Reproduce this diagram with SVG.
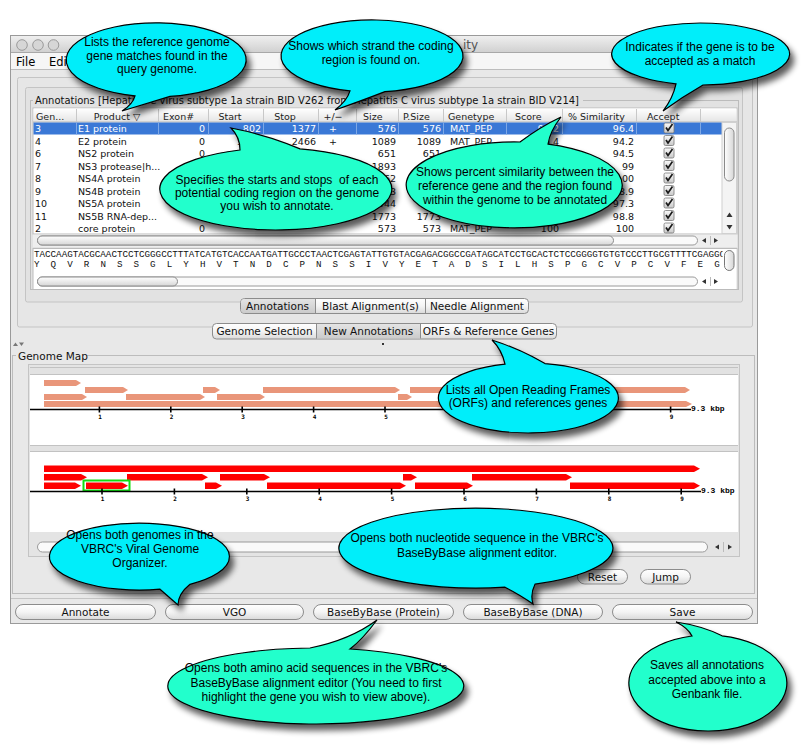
<svg xmlns="http://www.w3.org/2000/svg" width="810" height="750" viewBox="0 0 810 750">
<defs>
<style>
.ui{font-family:"DejaVu Sans","Liberation Sans",sans-serif;font-size:9.5px;fill:#111}
.w{fill:#fff}
.r{text-anchor:end}
.m{text-anchor:middle}
.hd{font-family:"DejaVu Sans","Liberation Sans",sans-serif;font-size:9.5px;fill:#222}
.btx{font-family:"DejaVu Sans","Liberation Sans",sans-serif;font-size:10.5px;fill:#111;text-anchor:middle}
.seq{font-family:"Liberation Mono","DejaVu Sans Mono",monospace;font-size:9.2px;fill:#111}
.co{font-family:"Liberation Sans",Arial,sans-serif;font-size:12px;fill:#000;text-anchor:middle}
.cy{fill:#00eefa;stroke:#000;stroke-width:1.2}
.mi{fill:#22ffcc;stroke:#000;stroke-width:1.2}
.orf{fill:#e9967a}
.ref{fill:#ff0000}
.btn{fill:url(#gb);stroke:#8c8c8c;stroke-width:1}
.ax{stroke:#000;stroke-width:1.3}
.tkm{stroke:#000;stroke-width:1.6}
.tk{font-family:"DejaVu Sans Mono",monospace;font-size:6px;font-weight:bold;fill:#000;text-anchor:middle}
.kb{font-family:"Liberation Mono","DejaVu Sans Mono",monospace;font-size:8px;font-weight:bold;fill:#000}
.ln{stroke:#c2c2c2;stroke-width:1;fill:none}
.col{stroke:#c8c8c8;stroke-width:1}
.arr{fill:#333}
</style>
<linearGradient id="tb" x1="0" y1="0" x2="0" y2="1"><stop offset="0" stop-color="#efefef"/><stop offset="1" stop-color="#d0d0d0"/></linearGradient>
<linearGradient id="gb" x1="0" y1="0" x2="0" y2="1"><stop offset="0" stop-color="#ffffff"/><stop offset="0.5" stop-color="#f4f4f4"/><stop offset="1" stop-color="#dadada"/></linearGradient>
<linearGradient id="gs" x1="0" y1="0" x2="0" y2="1"><stop offset="0" stop-color="#e4e4e4"/><stop offset="1" stop-color="#cbcbcb"/></linearGradient>
<linearGradient id="ghd" x1="0" y1="0" x2="0" y2="1"><stop offset="0" stop-color="#ffffff"/><stop offset="1" stop-color="#e4e4e4"/></linearGradient>
<linearGradient id="gth" x1="0" y1="0" x2="0" y2="1"><stop offset="0" stop-color="#ffffff"/><stop offset="1" stop-color="#d6d6d6"/></linearGradient>
<linearGradient id="gtv" x1="0" y1="0" x2="1" y2="0"><stop offset="0" stop-color="#ffffff"/><stop offset="1" stop-color="#d6d6d6"/></linearGradient>
<linearGradient id="gcb" x1="0" y1="0" x2="0" y2="1"><stop offset="0" stop-color="#fafafa"/><stop offset="1" stop-color="#c8c8c8"/></linearGradient>
<filter id="sh" x="-20%" y="-30%" width="150%" height="170%">
<feGaussianBlur in="SourceAlpha" stdDeviation="3"/>
<feOffset dx="4" dy="6" result="o"/>
<feComponentTransfer><feFuncA type="linear" slope="0.65"/></feComponentTransfer>
<feMerge><feMergeNode/><feMergeNode in="SourceGraphic"/></feMerge>
</filter>
<g id="cb"><rect x="-5" y="-5" width="10" height="10" rx="1.5" fill="url(#gcb)" stroke="#777" stroke-width="0.8"/><path d="M-3,-0.5 L-1,2.5 L3.5,-4" fill="none" stroke="#1a1a1a" stroke-width="1.7"/></g>
</defs>

<rect x="0" y="0" width="810" height="750" fill="#fff"/>

<g id="window">
<rect x="10.5" y="35.5" width="747" height="588" fill="#e8e8e8" stroke="#9a9a9a"/>
<rect x="11" y="36" width="746" height="16.5" fill="url(#tb)"/>
<line x1="11" y1="52.5" x2="757" y2="52.5" stroke="#a8a8a8"/>
<circle cx="22" cy="45" r="5.3" fill="#d6d6d6" stroke="#9a9a9a"/>
<circle cx="38" cy="45" r="5.3" fill="#d6d6d6" stroke="#9a9a9a"/>
<circle cx="53.5" cy="45" r="5.3" fill="#d6d6d6" stroke="#9a9a9a"/>
<text x="463" y="49" font-family="DejaVu Sans, sans-serif" font-size="12" fill="#555">ity</text>
<rect x="11" y="53" width="746" height="16" fill="#f6f6f6"/>
<line x1="11" y1="69.5" x2="757" y2="69.5" stroke="#bdbdbd"/>
<text x="16" y="66" font-family="DejaVu Sans, sans-serif" font-size="11.5" fill="#000">File</text>
<text x="49" y="66" font-family="DejaVu Sans, sans-serif" font-size="11.5" fill="#000">Edit</text>
<rect x="17.5" y="77.5" width="735" height="249.5" rx="2" fill="#e6e6e6" stroke="#c4c4c4"/>
<rect x="25.5" y="87.5" width="717" height="214.5" rx="2" fill="#e2e2e2" stroke="#c4c4c4"/>
<rect x="30.5" y="100.5" width="708" height="189" fill="none" stroke="#bcbcbc"/>
<rect x="33" y="94" width="550" height="11" fill="#e2e2e2"/>
<text x="35" y="104" font-family="DejaVu Sans, sans-serif" font-size="10" fill="#111" textLength="544" lengthAdjust="spacingAndGlyphs">Annotations [Hepatitis C virus subtype 1a strain BID V262 from Hepatitis C virus subtype 1a strain BID V214]</text>
</g>

<g id="table">
<rect x="33" y="108" width="704" height="126" fill="#fff" stroke="#bbb"/>
<rect x="33.5" y="108.5" width="703" height="13.5" fill="url(#ghd)"/>
<line x1="33" y1="122" x2="737" y2="122" stroke="#b8b8b8"/>
<g class="col">
<line x1="76.5" y1="109" x2="76.5" y2="122"/><line x1="158.5" y1="109" x2="158.5" y2="122"/><line x1="208.5" y1="109" x2="208.5" y2="122"/><line x1="263.5" y1="109" x2="263.5" y2="122"/><line x1="318.5" y1="109" x2="318.5" y2="122"/><line x1="356.5" y1="109" x2="356.5" y2="122"/><line x1="398.5" y1="109" x2="398.5" y2="122"/><line x1="443.5" y1="109" x2="443.5" y2="122"/><line x1="506.5" y1="109" x2="506.5" y2="122"/><line x1="562.5" y1="109" x2="562.5" y2="122"/><line x1="636.5" y1="109" x2="636.5" y2="122"/><line x1="700.5" y1="109" x2="700.5" y2="122"/>
</g>
<g class="hd">
<text x="36" y="119.5">Gen...</text>
<text x="117" y="119.5" class="m">Product ▽</text>
<text x="163" y="119.5">Exon#</text>
<text x="230" y="119.5" class="m">Start</text>
<text x="285" y="119.5" class="m">Stop</text>
<text x="333" y="119.5" class="m">+/−</text>
<text x="363" y="119.5">Size</text>
<text x="403" y="119.5">P.Size</text>
<text x="448" y="119.5">Genetype</text>
<text x="515" y="119.5">Score</text>
<text x="568" y="119.5">% Similarity</text>
<text x="647" y="119.5">Accept</text>
</g>
<rect x="33.5" y="122.5" width="688.5" height="12" fill="#3a78d6"/>
<g stroke="#7ea8e6" stroke-width="1">
<line x1="76.5" y1="122.5" x2="76.5" y2="134.5"/><line x1="158.5" y1="122.5" x2="158.5" y2="134.5"/><line x1="208.5" y1="122.5" x2="208.5" y2="134.5"/><line x1="263.5" y1="122.5" x2="263.5" y2="134.5"/><line x1="318.5" y1="122.5" x2="318.5" y2="134.5"/><line x1="356.5" y1="122.5" x2="356.5" y2="134.5"/><line x1="398.5" y1="122.5" x2="398.5" y2="134.5"/><line x1="443.5" y1="122.5" x2="443.5" y2="134.5"/><line x1="506.5" y1="122.5" x2="506.5" y2="134.5"/><line x1="562.5" y1="122.5" x2="562.5" y2="134.5"/><line x1="636.5" y1="122.5" x2="636.5" y2="134.5"/><line x1="700.5" y1="122.5" x2="700.5" y2="134.5"/>
</g>
<g class="ui w">
<text x="35" y="132">3</text><text x="78" y="132">E1 protein</text><text x="205" y="132" class="r">0</text><text x="261" y="132" class="r">802</text><text x="316" y="132" class="r">1377</text><text x="333" y="132" class="m">+</text><text x="396" y="132" class="r">576</text><text x="441" y="132" class="r">576</text><text x="450" y="132">MAT_PEP</text><text x="559" y="132" class="r">97.2</text><text x="634" y="132" class="r">96.4</text>
</g>
<g class="ui">
<text x="35" y="144.5">4</text><text x="78" y="144.5">E2 protein</text><text x="205" y="144.5" class="r">0</text><text x="261" y="144.5" class="r">1378</text><text x="316" y="144.5" class="r">2466</text><text x="333" y="144.5" class="m">+</text><text x="396" y="144.5" class="r">1089</text><text x="441" y="144.5" class="r">1089</text><text x="450" y="144.5">MAT_PEP</text><text x="559" y="144.5" class="r">96.4</text><text x="634" y="144.5" class="r">94.2</text>
<text x="35" y="157">6</text><text x="78" y="157">NS2 protein</text><text x="205" y="157" class="r">0</text><text x="396" y="157" class="r">651</text><text x="441" y="157" class="r">651</text><text x="634" y="157" class="r">94.5</text>
<text x="35" y="169.5">7</text><text x="78" y="169.5">NS3 protease|h...</text><text x="396" y="169.5" class="r">1893</text><text x="634" y="169.5" class="r">99</text>
<text x="35" y="182">8</text><text x="78" y="182">NS4A protein</text><text x="396" y="182" class="r">162</text><text x="634" y="182" class="r">100</text>
<text x="35" y="194.5">9</text><text x="78" y="194.5">NS4B protein</text><text x="396" y="194.5" class="r">783</text><text x="634" y="194.5" class="r">98.9</text>
<text x="35" y="207">10</text><text x="78" y="207">NS5A protein</text><text x="396" y="207" class="r">1344</text><text x="634" y="207" class="r">97.3</text>
<text x="35" y="219.5">11</text><text x="78" y="219.5">NS5B RNA-dep...</text><text x="396" y="219.5" class="r">1773</text><text x="441" y="219.5" class="r">1773</text><text x="634" y="219.5" class="r">98.8</text>
<text x="35" y="232">2</text><text x="78" y="232">core protein</text><text x="205" y="232" class="r">0</text><text x="396" y="232" class="r">573</text><text x="441" y="232" class="r">573</text><text x="450" y="232">MAT_PEP</text><text x="559" y="232" class="r">100</text><text x="634" y="232" class="r">100</text>
</g>
<use href="#cb" x="669" y="128"/><use href="#cb" x="669" y="140.5"/><use href="#cb" x="669" y="153"/><use href="#cb" x="669" y="165.5"/><use href="#cb" x="669" y="178"/><use href="#cb" x="669" y="190.5"/><use href="#cb" x="669" y="203"/><use href="#cb" x="669" y="215.5"/><use href="#cb" x="669" y="228"/>
<rect x="722" y="122.5" width="14.5" height="111" fill="#f4f4f4" stroke="#d0d0d0"/>
<rect x="724.5" y="128" width="9.5" height="53" rx="4.75" fill="url(#gtv)" stroke="#8a8a8a"/>
<polygon class="arr" points="726.5,217 732.5,217 729.5,212.5"/>
<polygon class="arr" points="726.5,225 732.5,225 729.5,229.5"/>
<rect x="33" y="234.5" width="704" height="12.5" fill="#eeeeee"/>
<rect x="37.5" y="236" width="660" height="9" rx="4.5" fill="#fafafa" stroke="#9a9a9a"/>
<rect x="37.5" y="236" width="576" height="9" rx="4.5" fill="url(#gth)" stroke="#8a8a8a"/>
<polygon class="arr" points="702,240.5 706,238 706,243"/>
<polygon class="arr" points="714,238 714,243 718,240.5"/>
<line x1="710.5" y1="236" x2="710.5" y2="245" stroke="#bbb"/>
</g>

<g id="sequence">
<rect x="33" y="248.5" width="704" height="41" fill="#fff" stroke="#bbb"/>
<text class="seq" x="34" y="257" textLength="691" lengthAdjust="spacingAndGlyphs">TACCAAGTACGCAACTCCTCGGGCCTTTATCATGTCACCAATGATTGCCCTAACTCGAGTATTGTGTACGAGACGGCCGATAGCATCCTGCACTCTCCGGGGTGTGTCCCTTGCGTTTTCGAGGC</text>
<text class="seq" y="267" x="34 50.6 67.2 83.8 100.4 117 133.5 150.1 166.7 183.3 199.9 216.5 233.1 249.7 266.3 282.9 299.4 316 332.6 349.2 365.8 382.4 399 415.6 432.2 448.8 465.3 481.9 498.5 515.1 531.7 548.3 564.9 581.5 598.1 614.7 631.2 647.8 664.4 681 697.6 714.2">YQVRNSSGLYHVTNDCPNSSIVYETADSILHSPGCVPCVFEG</text>
<rect x="722.5" y="249" width="14" height="40" fill="#fff"/>
<rect x="724.5" y="250.5" width="9.5" height="20" rx="4.75" fill="url(#gtv)" stroke="#777"/>
<rect x="37.5" y="277" width="660" height="9" rx="4.5" fill="#fafafa" stroke="#9a9a9a"/>
<rect x="37.5" y="277" width="140" height="9" rx="4.5" fill="url(#gth)" stroke="#8a8a8a"/>
<polygon class="arr" points="702,281.5 706,279 706,284"/>
<polygon class="arr" points="714,279 714,284 718,281.5"/>
<line x1="710.5" y1="277" x2="710.5" y2="286" stroke="#bbb"/>
</g>

<g id="tabs1">
<rect x="240.5" y="298.5" width="288" height="15" rx="4" class="btn"/>
<rect x="241" y="299" width="74.5" height="14" rx="3.5" fill="url(#gs)"/>
<rect x="300" y="299" width="15.5" height="14" fill="url(#gs)"/>
<line x1="315.5" y1="299" x2="315.5" y2="313" stroke="#8c8c8c"/>
<line x1="425.5" y1="299" x2="425.5" y2="313" stroke="#8c8c8c"/>
<text class="btx" x="277.5" y="310">Annotations</text>
<text class="btx" x="370.5" y="310">Blast Alignment(s)</text>
<text class="btx" x="477" y="310">Needle Alignment</text>
</g>
<g id="tabs2">
<rect x="212.5" y="323.5" width="344" height="15.5" rx="4" class="btn"/>
<rect x="316.5" y="324" width="104" height="14.5" fill="url(#gs)"/>
<line x1="316.5" y1="324" x2="316.5" y2="338.5" stroke="#8c8c8c"/>
<line x1="420.5" y1="324" x2="420.5" y2="338.5" stroke="#8c8c8c"/>
<text class="btx" x="264.5" y="335">Genome Selection</text>
<text class="btx" x="368.5" y="335">New Annotations</text>
<text class="btx" x="488.5" y="335">ORFs &amp; Reference Genes</text>
</g>
<polygon points="13,346 15.5,342.5 18,346" fill="#777"/>
<polygon points="19,342.5 24,342.5 21.5,346" fill="#777"/>
<rect x="382" y="343" width="2" height="2" fill="#333"/>

<g id="genome-map">
<rect x="12.5" y="355.5" width="742" height="238" fill="none" stroke="#bcbcbc"/>
<rect x="16" y="350" width="70" height="11" fill="#e8e8e8"/>
<text x="18" y="360" font-family="DejaVu Sans, sans-serif" font-size="10.5" fill="#111">Genome Map</text>
<rect x="28.5" y="364.5" width="711" height="192" fill="#e4e4e4" stroke="#c4c4c4"/>
<rect x="30" y="367" width="708" height="8" fill="#e2e2e2"/>
<line class="ln" x1="30" y1="367.5" x2="738" y2="367.5"/>
<line class="ln" x1="30" y1="374.5" x2="738" y2="374.5"/>
<rect x="30" y="375" width="708" height="70" fill="#fff"/>
<rect x="30" y="445" width="708" height="7" fill="#e2e2e2"/>
<line class="ln" x1="30" y1="445.5" x2="738" y2="445.5"/>
<line class="ln" x1="30" y1="451.5" x2="738" y2="451.5"/>
<rect x="30" y="452" width="708" height="80" fill="#fff"/>

<g id="orfs">
<polygon class="orf" points="44,380 76,380 81,383 76,386 44,386"/>
<polygon class="orf" points="85,387 123,387 128,390 123,393 85,393"/>
<polygon class="orf" points="203,387 215,387 220,390 215,393 203,393"/>
<polygon class="orf" points="263,387 395,387 400,390 395,393 263,393"/>
<polygon class="orf" points="410,387 685,387 690,390 685,393 410,393"/>
<polygon class="orf" points="44,394 82,394 87,397 82,400 44,400"/>
<polygon class="orf" points="126,394 200,394 205,397 200,400 126,400"/>
<polygon class="orf" points="217,394 260,394 265,397 260,400 217,400"/>
<polygon class="orf" points="398,394 407,394 412,397 407,400 398,400"/>
<polygon class="orf" points="44,401 686,401 692,404 686,407 44,407"/>
<line class="ax" x1="30" y1="409.5" x2="691" y2="409.5"/>
<g class="tkm">
<line x1="99.4" y1="406.5" x2="99.4" y2="412.5"/><line x1="170.8" y1="406.5" x2="170.8" y2="412.5"/><line x1="242.2" y1="406.5" x2="242.2" y2="412.5"/><line x1="313.6" y1="406.5" x2="313.6" y2="412.5"/><line x1="385" y1="406.5" x2="385" y2="412.5"/><line x1="456.4" y1="406.5" x2="456.4" y2="412.5"/><line x1="527.8" y1="406.5" x2="527.8" y2="412.5"/><line x1="599.2" y1="406.5" x2="599.2" y2="412.5"/><line x1="670.6" y1="406.5" x2="670.6" y2="412.5"/>
</g>
<g class="tk">
<text x="100" y="419">1</text><text x="171.5" y="419">2</text><text x="243" y="419">3</text><text x="314.5" y="419">4</text><text x="386" y="419">5</text><text x="457" y="419">6</text><text x="528.5" y="419">7</text><text x="600" y="419">8</text><text x="671.5" y="419">9</text>
</g>
<text class="kb" x="691" y="411">9.3 kbp</text>
</g>

<g id="ref-genes">
<polygon class="ref" points="44,465.5 694,465.5 700,468.75 694,472 44,472"/>
<polygon class="ref" points="44,474 81,474 87,477.25 81,480.5 44,480.5"/>
<polygon class="ref" points="127,474 202,474 208,477.25 202,480.5 127,480.5"/>
<polygon class="ref" points="220,474 264,474 270,477.25 264,480.5 220,480.5"/>
<polygon class="ref" points="403,474 411,474 417,477.25 411,480.5 403,480.5"/>
<polygon class="ref" points="472,474 566,474 572,477.25 566,480.5 472,480.5"/>
<polygon class="ref" points="44,482.5 75,482.5 81,485.75 75,489 44,489"/>
<polygon class="ref" points="86,482.5 122,482.5 128,485.75 122,489 86,489"/>
<polygon class="ref" points="205,482.5 216,482.5 222,485.75 216,489 205,489"/>
<polygon class="ref" points="267,482.5 400,482.5 406,485.75 400,489 267,489"/>
<polygon class="ref" points="415,482.5 467,482.5 473,485.75 467,489 415,489"/>
<polygon class="ref" points="570,482.5 694,482.5 700,485.75 694,489 570,489"/>
<rect x="83.5" y="480.5" width="46" height="10" fill="none" stroke="#11dd11" stroke-width="2"/>
<line class="ax" x1="30" y1="491.5" x2="701" y2="491.5"/>
<g class="tkm">
<line x1="102" y1="488.5" x2="102" y2="494.5"/><line x1="174.4" y1="488.5" x2="174.4" y2="494.5"/><line x1="246.8" y1="488.5" x2="246.8" y2="494.5"/><line x1="319.2" y1="488.5" x2="319.2" y2="494.5"/><line x1="391.6" y1="488.5" x2="391.6" y2="494.5"/><line x1="464" y1="488.5" x2="464" y2="494.5"/><line x1="536.4" y1="488.5" x2="536.4" y2="494.5"/><line x1="608.8" y1="488.5" x2="608.8" y2="494.5"/><line x1="681.2" y1="488.5" x2="681.2" y2="494.5"/>
</g>
<g class="tk">
<text x="102.5" y="500.5">1</text><text x="175" y="500.5">2</text><text x="247.5" y="500.5">3</text><text x="320" y="500.5">4</text><text x="392.5" y="500.5">5</text><text x="465" y="500.5">6</text><text x="537" y="500.5">7</text><text x="609.5" y="500.5">8</text><text x="682" y="500.5">9</text>
</g>
<text class="kb" x="701" y="493">9.3 kbp</text>
</g>

<rect x="37.5" y="542" width="670" height="10" rx="5" fill="#fafafa" stroke="#9a9a9a"/>
<polygon class="arr" points="715,547 719,544.5 719,549.5"/>
<polygon class="arr" points="728,544.5 728,549.5 732,547"/>
<line x1="723.5" y1="542" x2="723.5" y2="552" stroke="#bbb"/>
<rect x="577.5" y="569.5" width="50" height="14.5" rx="7.25" class="btn"/>
<text class="btx" x="602.5" y="580.5">Reset</text>
<rect x="640.5" y="569.5" width="50" height="14.5" rx="7.25" class="btn"/>
<text class="btx" x="665.5" y="580.5">Jump</text>
</g>

<g id="buttons">
<line x1="11" y1="598.5" x2="757" y2="598.5" stroke="#c4c4c4"/>
<rect x="15.5" y="604.5" width="140" height="15" rx="7.5" class="btn"/>
<text class="btx" x="85.5" y="615.5">Annotate</text>
<rect x="165.5" y="604.5" width="138" height="15" rx="7.5" class="btn"/>
<text class="btx" x="234.5" y="615.5">VGO</text>
<rect x="313.5" y="604.5" width="140" height="15" rx="7.5" class="btn"/>
<text class="btx" x="383.5" y="615.5">BaseByBase (Protein)</text>
<rect x="463.5" y="604.5" width="139" height="15" rx="7.5" class="btn"/>
<text class="btx" x="533" y="615.5">BaseByBase (DNA)</text>
<rect x="612.5" y="604.5" width="140" height="15" rx="7.5" class="btn"/>
<text class="btx" x="682.5" y="615.5">Save</text>
</g>

<g id="callouts">
<g id="callout-genes">
<path class="cy" filter="url(#sh)" d="M170,96.4 Q145,104 122,111 Q133,104 135,95.8 A90,37 0 1 1 170,96.4 Z"/>
<text class="co" x="157" y="46">Lists the reference genome</text>
<text class="co" x="157" y="59.5">gene matches found in the</text>
<text class="co" x="157" y="73">query genome.</text>
</g>
<g id="callout-strand">
<path class="cy" filter="url(#sh)" d="M385,91.6 Q358,102 335,110 Q347,101 350,90.9 A91,36 0 1 1 385,91.6 Z"/>
<text class="co" x="371" y="50">Shows which strand the coding</text>
<text class="co" x="371" y="64">region is found on.</text>
</g>
<g id="callout-accept">
<path class="cy" filter="url(#sh)" d="M703,85 Q682,97 663,111 Q673,98 676,83.8 A89,31 0 1 1 703,85 Z"/>
<text class="co" x="700" y="51">Indicates if the gene is to be</text>
<text class="co" x="700" y="65">accepted as a match</text>
</g>
<g id="callout-startstop">
<path class="mi" filter="url(#sh)" d="M240,150 Q240,137 231,128 Q268,135 300,148.9 A116,41 0 1 1 240,150 Z"/>
<text class="co" x="277" y="184" style="white-space:pre">Specifies the starts and stops  of each</text>
<text class="co" x="277" y="197">potential coding region on the genome</text>
<text class="co" x="277" y="210">you wish to annotate.</text>
</g>
<g id="callout-similarity">
<path class="mi" filter="url(#sh)" d="M520,142 Q540,127 561,117 Q550,131 548,144.1 A108,43 0 1 1 520,142 Z"/>
<text class="co" x="515" y="176">Shows percent similarity between the</text>
<text class="co" x="515" y="190">reference gene and the region found</text>
<text class="co" x="515" y="204">within the genome to be annotated</text>
</g>
<g id="callout-orfs">
<path class="cy" filter="url(#sh)" d="M505,364.2 Q502,350 492,340 Q520,349 545,363.6 A90,35 0 1 1 505,364.2 Z"/>
<text class="co" x="528" y="393.5">Lists all Open Reading Frames</text>
<text class="co" x="528" y="407">(ORFs) and references genes</text>
</g>
<g id="callout-vgo">
<path class="cy" filter="url(#sh)" d="M160,589.2 Q170,598 178,605 Q178,594 190,584.3 A90,33.5 0 1 0 160,589.2 Z"/>
<text class="co" x="140" y="539">Opens both genomes in the</text>
<text class="co" x="140" y="553">VBRC's Viral Genome</text>
<text class="co" x="140" y="567">Organizer.</text>
</g>
<g id="callout-dna">
<path class="cy" filter="url(#sh)" d="M505,587.2 Q522,596 533,604 Q530,594 535,584.2 A137,40 0 1 0 505,587.2 Z"/>
<text class="co" x="477" y="542">Opens both nucleotide sequence in the VBRC's</text>
<text class="co" x="477" y="556.5">BaseByBase alignment editor.</text>
</g>
<g id="callout-protein">
<path class="mi" filter="url(#sh)" d="M310,648 Q350,640 377,620 Q362,640 350,649 A148,38 0 1 1 310,648 Z"/>
<text class="co" x="316" y="672">Opens both amino acid sequences in the VBRC's</text>
<text class="co" x="316" y="686.5">BaseByBase alignment editor (You need to first</text>
<text class="co" x="316" y="701">highlight the gene you wish to view above).</text>
</g>
<g id="callout-save">
<path class="mi" filter="url(#sh)" d="M692,636 Q688,628 676,622 Q703,626 722,635.8 A79,48 0 1 1 692,636 Z"/>
<text class="co" x="707" y="669">Saves all annotations</text>
<text class="co" x="707" y="683.5">accepted above into a</text>
<text class="co" x="707" y="698">Genbank file.</text>
</g>
</g>
</svg>
